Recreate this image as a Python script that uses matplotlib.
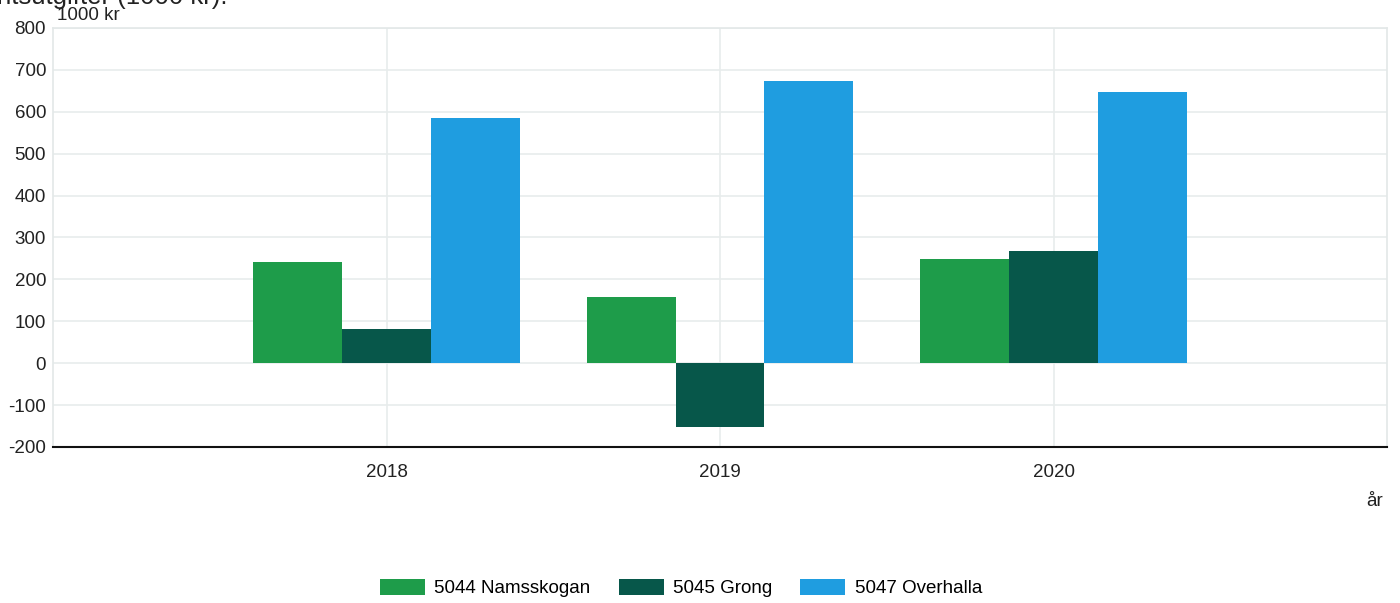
import matplotlib.pyplot as plt
import numpy as np

plt.rcParams['font.family'] = ['Liberation Sans', 'DejaVu Sans']
plt.rcParams['axes.unicode_minus'] = False

years = ['2018', '2019', '2020']
series_names = ['5044 Namsskogan', '5045 Grong', '5047 Overhalla']
namsskogan = [241, 157, 248]
grong = [81, -153, 267]
overhalla = [585, 673, 647]
colors = ['#1e9c4a', '#07574a', '#1f9de0']

fs = 13.5
fig = plt.figure(figsize=(14, 6.03), dpi=100)
ax = fig.add_axes([53 / 1400, 1 - 447 / 603, (1387 - 53) / 1400, (447 - 28) / 603])

x = np.arange(len(years))
w = 0.266
for i, (vals, name) in enumerate(zip([namsskogan, grong, overhalla], series_names)):
    ax.bar(x + (i - 1) * w, vals, width=w, color=colors[i], label=name, zorder=3)

ax.set_xlim(-1, 3)
ax.set_ylim(-200, 800)
ax.set_yticks(np.arange(-200, 801, 100))
ax.set_xticks(x)
ax.set_xticklabels(years)
ax.grid(True, color='#e8ecec', linewidth=1.2, zorder=0)
ax.tick_params(length=0, labelsize=fs, colors='#222222')
ax.tick_params(axis='x', pad=12)
ax.tick_params(axis='y', pad=5)
for side in ['top', 'right', 'left']:
    ax.spines[side].set_color('#e3e8e8')
    ax.spines[side].set_linewidth(1.2)
ax.spines['bottom'].set_color('#111111')
ax.spines['bottom'].set_linewidth(1.5)

# title is cut off at the top edge in the source, only its lower part shows
fig.text(-0.002, 1 + 3 / 603, 'ntsutgifter (1000 kr).', fontsize=18.5, va='center', ha='left', color='#222222')
fig.text(57 / 1400, 1 - 15 / 603, '1000 kr', fontsize=fs, va='center', ha='left', color='#222222')
fig.text(1366 / 1400, 1 - 501 / 603, 'år', fontsize=fs, va='center', ha='left', color='#222222')

fig.legend(loc='center', bbox_to_anchor=(681 / 1400, 1 - 588 / 603), ncol=3, frameon=False,
           fontsize=fs, handlelength=2.4, handleheight=1.0, columnspacing=1.5, handletextpad=0.5)

fig.savefig('out.png', dpi=100)
